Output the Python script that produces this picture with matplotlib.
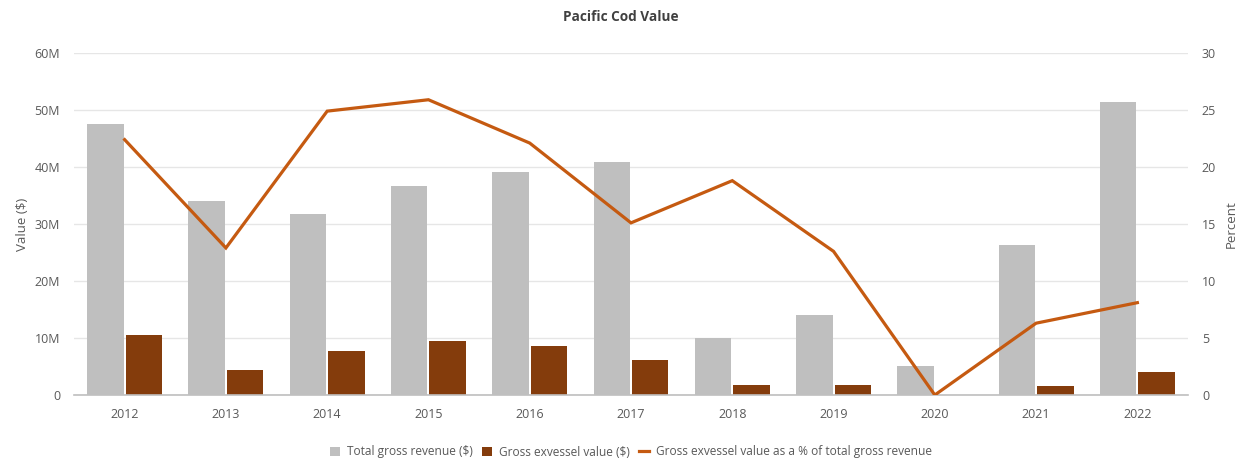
import matplotlib
matplotlib.use("Agg")
import matplotlib.pyplot as plt
import numpy as np
from matplotlib.patches import Patch
from matplotlib.lines import Line2D

years = ["2012", "2013", "2014", "2015", "2016", "2017", "2018", "2019", "2020", "2021", "2022"]
total_gross_revenue = [47.5, 34.0, 31.75, 36.7, 39.2, 40.9, 10.05, 14.1, 5.1, 26.3, 51.35]  # millions $
gross_exvessel_value = [10.5, 4.3, 7.8, 9.5, 8.65, 6.1, 1.75, 1.75, 0.05, 1.6, 4.1]  # millions $
exvessel_pct = [22.4, 12.9, 24.9, 25.9, 22.1, 15.1, 18.8, 12.6, 0.0, 6.3, 8.1]

left_ticks = [0, 10, 20, 30, 40, 50, 60]
left_tick_labels = ["0", "10M", "20M", "30M", "40M", "50M", "60M"]
right_ticks = [0, 5, 10, 15, 20, 25, 30]

plt.rcParams['font.family'] = ['Open Sans', 'DejaVu Sans']

GREY = "#BFBFBF"
BROWN = "#843C0C"
ORANGE = "#C55A11"
TXT = "#595959"

fig = plt.figure(figsize=(12.42, 4.63), dpi=100)
ax = fig.add_axes([74/1242, 1-395/463, (1188-74)/1242, (395-53)/463])
ax2 = ax.twinx()

x = np.arange(len(years))
w = 0.36
off = 0.19
ax.bar(x - off, total_gross_revenue, width=w, color=GREY, zorder=2)
ax.bar(x + off, gross_exvessel_value, width=w, color=BROWN, zorder=2)
ax2.plot(x, exvessel_pct, color=ORANGE, lw=2.3, zorder=3, solid_joinstyle='miter')

ax.set_xlim(-0.5, len(years) - 0.5)
ax.set_ylim(0, 60)
ax2.set_ylim(0, 30)
ax.set_yticks(left_ticks)
ax.set_yticklabels(left_tick_labels)
ax2.set_yticks(right_ticks)
ax.set_xticks(x)
ax.set_xticklabels(years)

for a in (ax, ax2):
    for s in a.spines.values():
        s.set_visible(False)
    a.tick_params(length=0, colors=TXT, labelsize=9)
ax.tick_params(axis='y', pad=10)
ax.tick_params(axis='x', pad=9)
ax2.tick_params(axis='y', pad=10)
ax.spines['bottom'].set_visible(True)
ax.spines['bottom'].set_color("#BFBFBF")
ax.spines['bottom'].set_linewidth(1.2)

ax.yaxis.grid(True, color="#E6E6E6", lw=1.0, zorder=0)
ax.set_axisbelow(True)

ax.set_ylabel("Value ($)", color=TXT, fontsize=9.5, labelpad=4)
ax2.set_ylabel("Percent", color=TXT, fontsize=9.5, labelpad=6)

fig.text(0.5, 1-17/463, "Pacific Cod Value", ha="center", va="center",
         fontsize=9.8, fontweight="bold", color="#404040")

handles = [
    Patch(facecolor=GREY, edgecolor='none'),
    Patch(facecolor=BROWN, edgecolor='none'),
    Line2D([0], [0], color=ORANGE, lw=2.3),
]
labels = ["Total gross revenue ($)", "Gross exvessel value ($)",
          "Gross exvessel value as a % of total gross revenue"]
fig.legend(handles, labels, loc="center", bbox_to_anchor=(631/1242, 1-452/463),
           ncol=3, frameon=False, fontsize=8.6, labelcolor=TXT,
           handlelength=0.8, handleheight=0.8, handletextpad=0.6, columnspacing=0.8)

fig.savefig("out.png", dpi=100, facecolor="white")
